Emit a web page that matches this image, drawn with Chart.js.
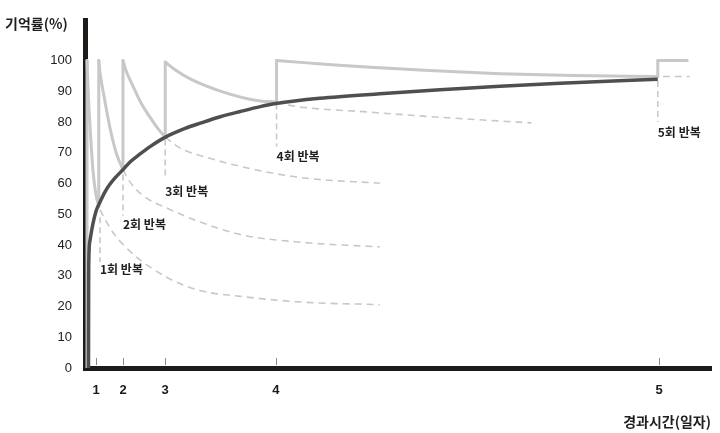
<!DOCTYPE html>
<html>
<head>
<meta charset="utf-8">
<script src="https://cdn.jsdelivr.net/npm/chart.js@4.4.1/dist/chart.umd.min.js"></script>
<style>
  html, body { margin: 0; padding: 0; background: #fff; }
  canvas { display: block; }
</style>
</head>
<body>
<canvas id="chart" width="720" height="433"></canvas>
<script>
// x axis is a drawn timeline, not to scale: each day sits at its own position
const dayTicks = [1, 2, 3, 4, 5];
const dayPos = [1.76, 6.07, 12.78, 30.5, 91.7];
const yTicks = [0, 10, 20, 30, 40, 50, 60, 70, 80, 90, 100];
const yMax = 112.9;

// memory rate after repeated review (dark curve)
const learnX = [0.56, 0.58, 0.62, 0.8, 1.28, 1.76, 2.4, 3.2, 4.0, 4.8, 6.07, 7.2, 8.8, 10.4, 12.78, 16.0, 18.4, 21.6, 24.8, 28.0, 30.5, 37.5, 47.1, 56.7, 66.3, 75.9, 91.5];
const learnY = [0, 25, 36, 41.5, 47, 51, 54, 57.3, 59.8, 61.8, 64.5, 67, 69.6, 72, 75, 77.9, 79.6, 81.7, 83.4, 85, 86, 87.7, 89.2, 90.5, 91.6, 92.6, 93.9];

// forgetting after each review (solid grey)
const decay1X = [0.32, 0.55, 0.85, 1.28, 1.7, 2.2];
const decay1Y = [100, 88, 77, 64, 57, 52.6];
const decay2X = [2.2, 2.4, 2.92, 4.0, 5.07, 6.07];
const decay2Y = [100, 96, 89.7, 78, 69.4, 64.5];
const decay3X = [6.07, 6.5, 7.7, 9.0, 10.4, 11.6, 12.82];
const decay3Y = [100, 97, 91.5, 86, 81.5, 78, 75];
const decay4X = [12.82, 14.5, 16.8, 22.1, 27.4, 30.6];
const decay4Y = [99.5, 96.8, 94, 89.7, 87, 86.5];
const decay5X = [30.6, 35, 40, 47.1, 55, 66.3, 78, 91.5];
const decay5Y = [100, 99.3, 98.5, 97.6, 96.7, 95.7, 95.1, 94.8];
const decay6X = [91.5, 96.2];
const decay6Y = [100, 100];

// review steps back up to 100
const riseX = [0.32, 2.2, 6.07, 12.82, 30.6, 91.5];
const riseFrom = [0, 52.6, 64.5, 75, 86.5, 94.8];
const riseTo = [100, 100, 100, 99.5, 100, 100];

// forgetting without further review (dashed)
const dash1X = [2.4, 2.92, 4.5, 7.7, 13.05, 18.37, 24.8, 34.9, 47.1];
const dash1Y = [51.5, 49.4, 44, 37, 29.5, 25.2, 23.3, 21.4, 20.6];
const dash2X = [6.07, 7.0, 9.0, 13.6, 18.4, 24.8, 35, 47.1];
const dash2Y = [64.5, 61, 56.5, 51.5, 47.5, 43.4, 40.8, 39.4];
const dash3X = [12.82, 15.2, 19.4, 27.4, 35.4, 47.1];
const dash3Y = [75, 71.5, 68.5, 64.4, 61.7, 60.1];
const dash4X = [30.6, 32.4, 45.5, 56.2, 71.3];
const dash4Y = [86.5, 85.5, 83.2, 81.6, 79.7];
const dash5X = [92.3, 96.6];
const dash5Y = [94.8, 94.8];

// dashed drop lines with their labels
const guideX = [2.4, 6.07, 12.82, 30.6, 91.5];
const guideTop = [49, 62.9, 74.3, 86, 93.3];
const guideBottom = [34.5, 49.5, 61.5, 72, 80];
const repLabels = ['1회 반복', '2회 반복', '3회 반복', '4회 반복', '5회 반복'];
const labelY = [32, 46.8, 57.4, 68.7, 76.5];

const pts = (xs, ys) => xs.map((x, i) => ({ x, y: ys[i] }));
const gray = '#c8c8c8';
const kfont = "'Noto Sans CJK KR', 'Liberation Sans', sans-serif";

const datasets = [
  { data: pts(learnX, learnY), borderColor: '#4f4f4f', borderWidth: 3.5, cubicInterpolationMode: 'monotone' }
];
[[decay1X, decay1Y], [decay2X, decay2Y], [decay3X, decay3Y], [decay4X, decay4Y], [decay5X, decay5Y], [decay6X, decay6Y]]
  .forEach(([xs, ys]) => datasets.push({
    data: pts(xs, ys), borderColor: gray, borderWidth: 3, cubicInterpolationMode: 'monotone', borderCapStyle: 'round'
  }));
riseX.forEach((x, i) => datasets.push({
  data: [{ x, y: riseFrom[i] }, { x, y: riseTo[i] }], borderColor: gray, borderWidth: 3, borderCapStyle: 'round'
}));
[[dash1X, dash1Y], [dash2X, dash2Y], [dash3X, dash3Y], [dash4X, dash4Y], [dash5X, dash5Y]]
  .forEach(([xs, ys]) => datasets.push({
    data: pts(xs, ys), borderColor: gray, borderWidth: 1.6, borderDash: [7, 5], cubicInterpolationMode: 'monotone'
  }));
guideX.forEach((x, i) => datasets.push({
  data: [{ x, y: guideTop[i] }, { x, y: guideBottom[i] }], borderColor: gray, borderWidth: 1.6, borderDash: [6, 4]
}));
datasets.forEach(d => { d.showLine = true; d.pointRadius = 0; d.fill = false; });

// inner tick marks, repetition labels and axis titles
const annotate = {
  id: 'annotate',
  afterDatasetsDraw(chart) {
    const { ctx, chartArea, scales: { x, y } } = chart;
    ctx.save();
    ctx.strokeStyle = '#8a8a8a';
    ctx.lineWidth = 1;
    dayPos.forEach(p => {
      const px = Math.round(x.getPixelForValue(p)) + 0.5;
      ctx.beginPath();
      ctx.moveTo(px, chartArea.bottom - 10);
      ctx.lineTo(px, chartArea.bottom - 3);
      ctx.stroke();
    });
    ctx.fillStyle = '#1f1f1f';
    ctx.textBaseline = 'middle';
    ctx.font = 'bold 12px ' + kfont;
    repLabels.forEach((t, i) => ctx.fillText(t, x.getPixelForValue(guideX[i]), y.getPixelForValue(labelY[i])));
    ctx.font = 'bold 14px ' + kfont;
    ctx.fillText('기억률(%)', 5, 24);
    ctx.textAlign = 'right';
    ctx.fillText('경과시간(일자)', 711, 422);
    ctx.restore();
  }
};

new Chart(document.getElementById('chart'), {
  type: 'scatter',
  data: { datasets },
  plugins: [annotate],
  options: {
    responsive: false,
    animation: false,
    devicePixelRatio: 1,
    layout: { padding: { top: 18, right: 9, left: 0, bottom: 0 } },
    plugins: { legend: { display: false }, tooltip: { enabled: false } },
    scales: {
      x: {
        type: 'linear', min: 0, max: 100,
        grid: { display: false, drawTicks: false },
        border: { display: true, width: 5, color: '#1e1a18' },
        afterBuildTicks: s => { s.ticks = dayPos.map(v => ({ value: v })); },
        afterFit: s => { s.height = 65; },
        ticks: {
          autoSkip: false, maxRotation: 0, padding: 15,
          color: '#1a1a1a',
          font: { family: "'Liberation Sans', Arial, sans-serif", size: 13, weight: 'bold' },
          callback: v => dayTicks[dayPos.indexOf(v)]
        }
      },
      y: {
        type: 'linear', min: 0, max: yMax,
        grid: { display: false, drawTicks: false },
        border: { display: true, width: 5, color: '#1e1a18' },
        afterBuildTicks: s => { s.ticks = yTicks.map(v => ({ value: v })); },
        afterFit: s => { s.width = 85; },
        ticks: {
          padding: 13,
          color: '#222',
          font: { family: "'Liberation Sans', Arial, sans-serif", size: 13 }
        }
      }
    }
  }
});
</script>
</body>
</html>
